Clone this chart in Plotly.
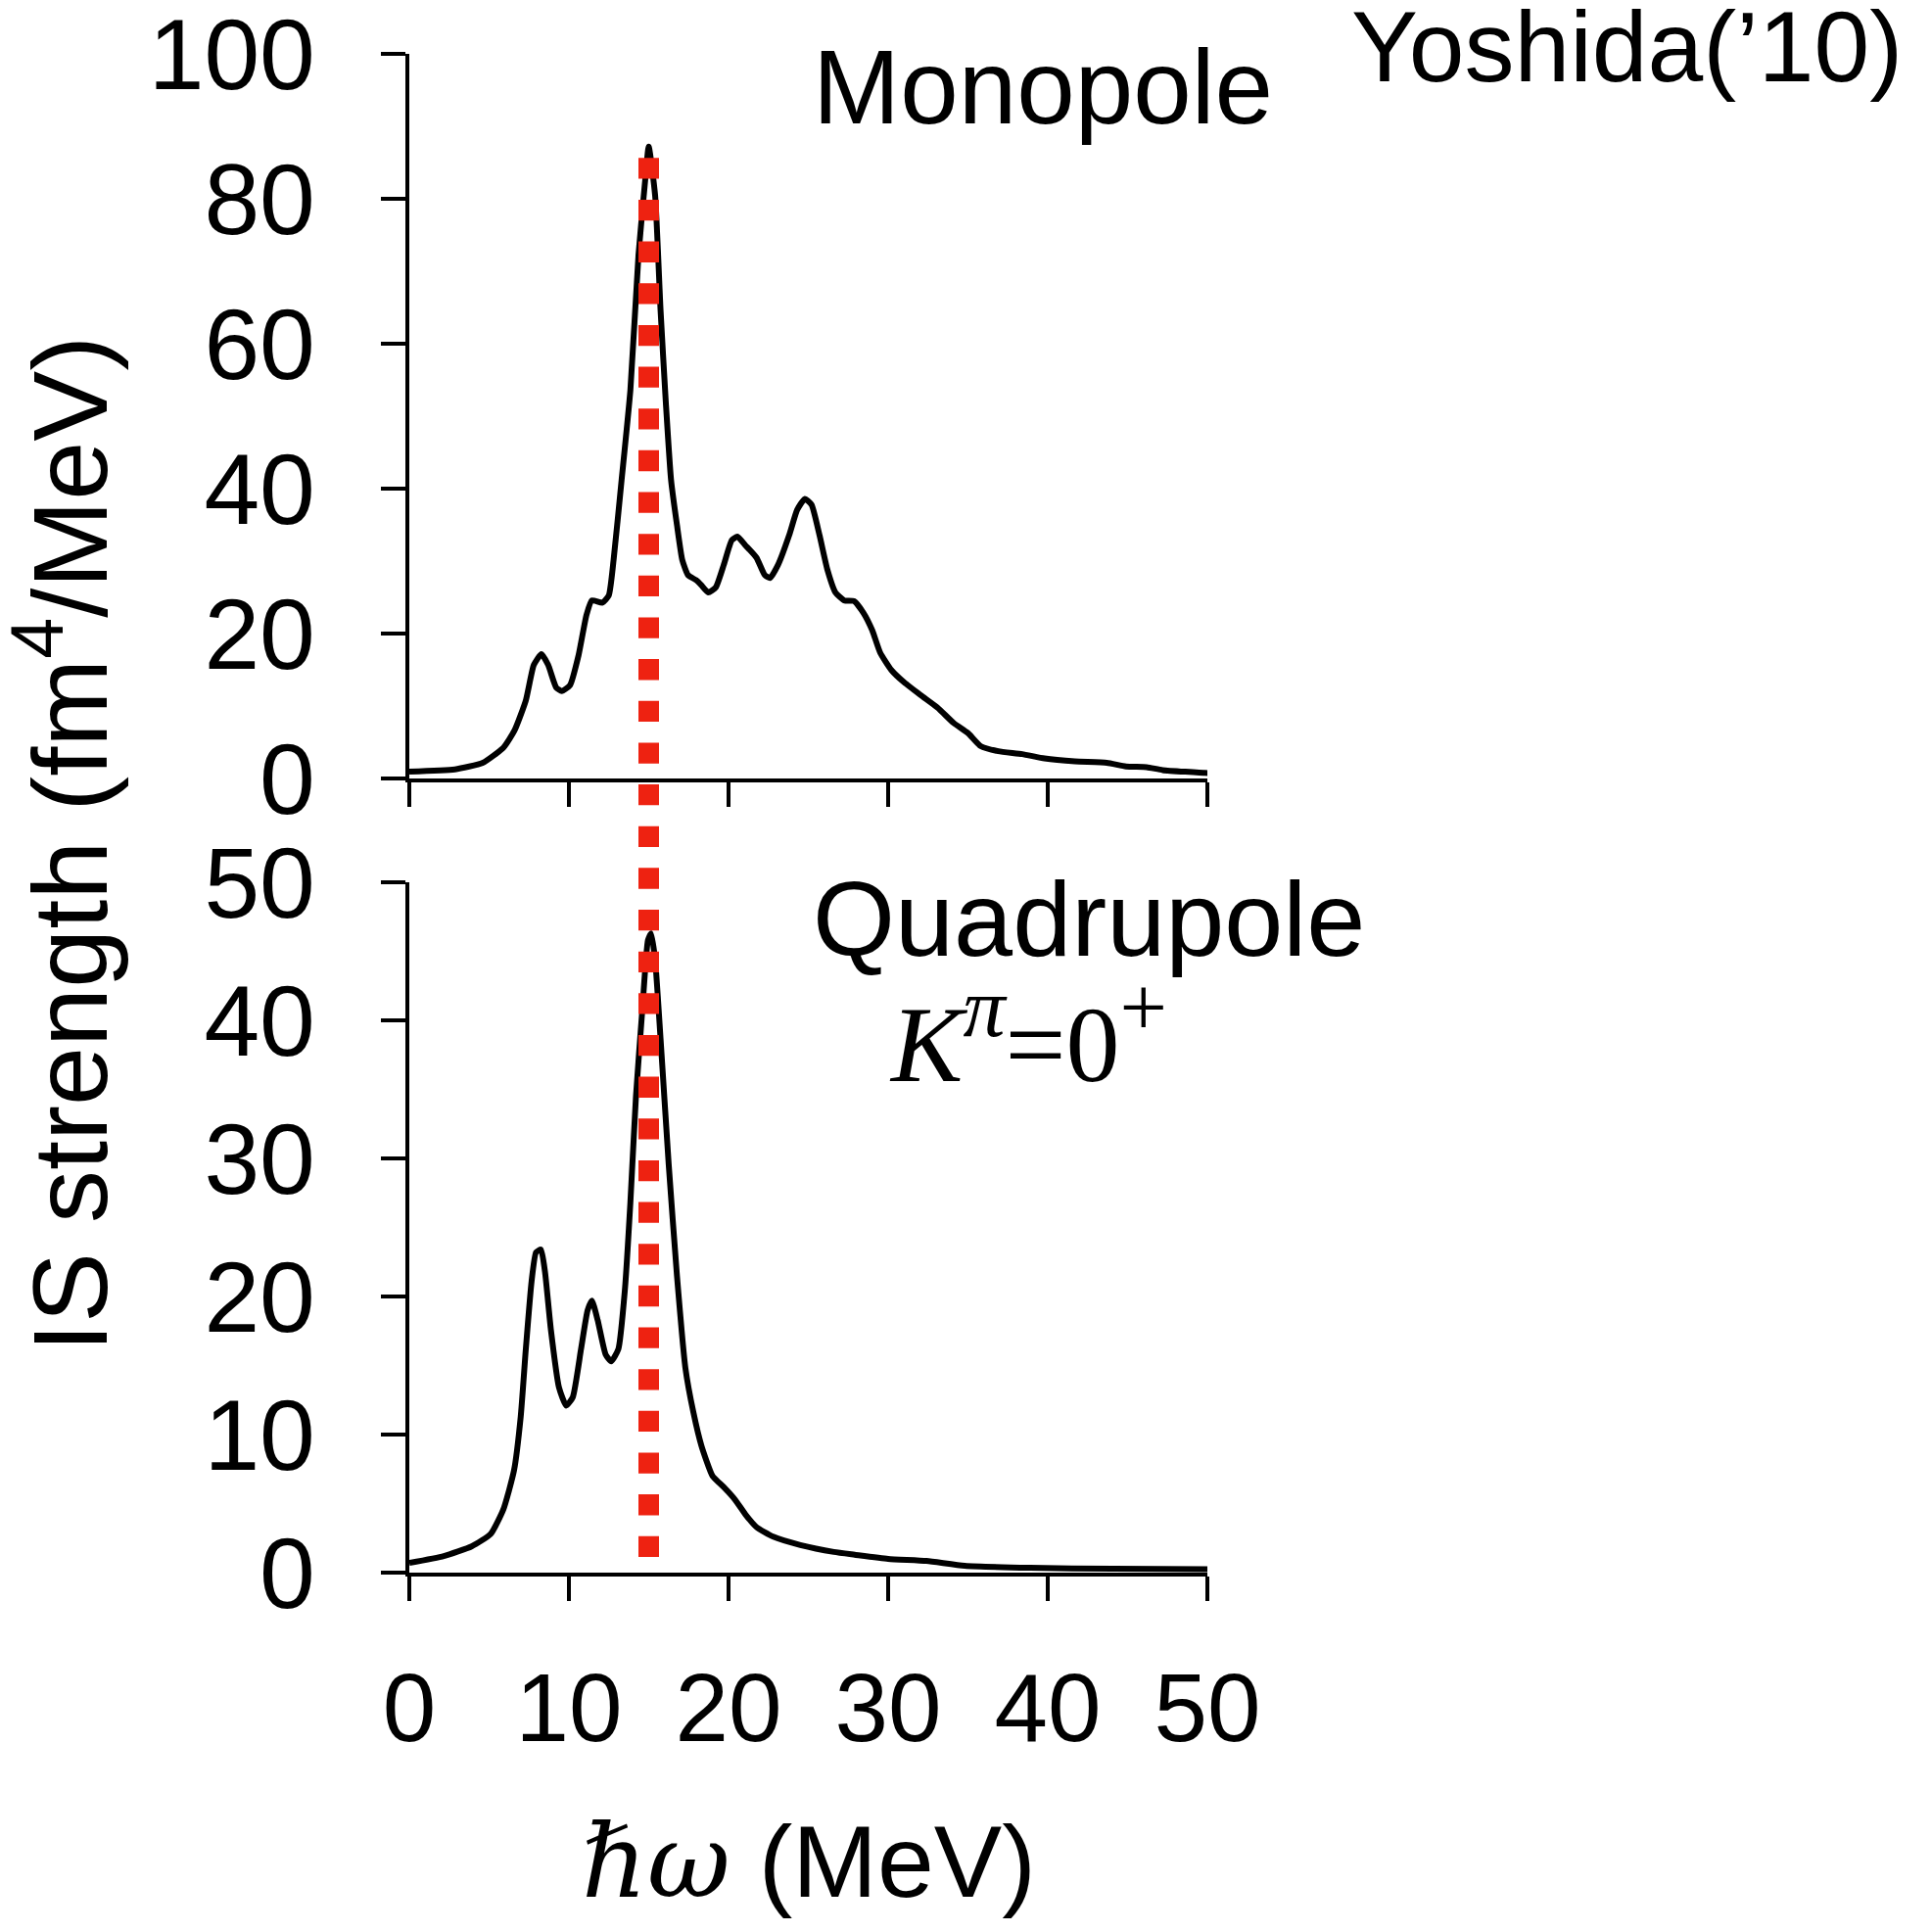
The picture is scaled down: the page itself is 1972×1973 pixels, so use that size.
import plotly.graph_objects as go

# Isoscalar monopole strength function (MeV, fm^4/MeV)
mono_e = [0.0, 2.85, 4.6, 5.9, 6.6, 7.3, 7.8, 8.28, 8.7, 9.2, 9.55, 10.07, 10.6, 11.1,
          11.44, 12.1, 12.5, 12.8, 13.3, 13.85, 14.36, 14.78, 15.0, 15.4, 15.74, 16.08,
          16.4, 16.77, 17.1, 17.46, 17.97, 18.3, 18.73, 19.2, 19.7, 20.2, 20.55, 21.06,
          21.75, 22.27, 22.6, 23.1, 23.8, 24.3, 24.78, 25.2, 25.7, 26.2, 26.7, 27.25,
          27.87, 28.45, 29.0, 29.5, 30.2, 31.0, 32.06, 33.1, 34.1, 35.0, 35.8, 36.9,
          38.4, 39.8, 41.7, 43.7, 44.9, 46.2, 47.2, 49.9, 50.0]
mono_s = [1.0, 1.3, 2.2, 4.3, 6.7, 10.8, 15.7, 17.2, 15.7, 12.6, 12.1, 12.9, 17.0, 22.6,
          24.6, 24.3, 25.3, 30.2, 41.2, 53.6, 72.3, 82.6, 87.2, 80.5, 64.7, 51.6,
          41.2, 35.0, 30.2, 28.1, 27.4, 26.7, 25.7, 26.4, 29.5, 32.9, 33.4, 32.2,
          30.5, 28.1, 27.7, 29.5, 33.6, 37.1, 38.6, 37.8, 33.6, 28.8, 25.7, 24.6,
          24.5, 22.9, 20.5, 17.4, 15.0, 13.3, 11.5, 9.8, 7.7, 6.3, 4.5, 3.8,
          3.4, 2.8, 2.4, 2.2, 1.7, 1.6, 1.2, 0.8, 0.8]

# Isoscalar quadrupole (K^pi = 0+) strength function
quad_e = [0.0, 2.16, 3.9, 5.1, 5.9, 6.56, 6.98, 7.3, 7.66, 7.94, 8.25, 8.5, 8.87, 9.38,
          9.83, 10.24, 10.76, 11.17, 11.44, 11.8, 12.3, 12.65, 13.1, 13.5, 13.85, 14.2,
          14.6, 14.95, 15.15, 15.4, 15.74, 16.25, 16.77, 17.3, 17.8, 18.3, 19.0, 19.7,
          20.4, 21.07, 21.75, 22.8, 24.5, 26.6, 27.9, 30.0, 32.4, 34.8, 38.9, 44.1, 50.0]
quad_s = [0.7, 1.2, 1.9, 2.8, 4.6, 7.4, 11.3, 16.2, 21.1, 23.2, 23.4, 21.8, 17.6, 13.4,
          12.1, 12.7, 16.2, 19.0, 19.7, 18.3, 15.8, 15.3, 16.2, 20.4, 26.8, 34.5,
          40.8, 45.8, 46.3, 44.4, 38.7, 29.6, 21.5, 14.8, 11.6, 9.2, 7.0, 6.2,
          5.3, 4.2, 3.3, 2.6, 2.0, 1.5, 1.3, 1.0, 0.85, 0.5, 0.35, 0.28, 0.25]

# Dotted marker energy and its vertical extent (top on monopole scale, bottom on quadrupole scale)
marker_e = 15.0
marker_top = 85.64
marker_bottom = 1.07

x_ticks = [0, 10, 20, 30, 40, 50]
mono_ticks = [0, 20, 40, 60, 80, 100]
quad_ticks = [0, 10, 20, 30, 40, 50]
mono_range = [0, 100]
quad_range = [0, 50]
x_range = [0, 50]

W, H = 1972, 1973
ML, MR, MT, MB = 418, 739, 55, 367
top_dom = [0.5227, 1.0]
bot_dom = [0.0, 0.4545]

SANS = "Liberation Sans, Arial, Helvetica, sans-serif"
SERIF = "Liberation Serif, Times New Roman, DejaVu Serif, serif"


def px_x(px):
    return (px - ML) / (W - ML - MR)


def px_y(py):
    return (H - MB - py) / (H - MT - MB)


def val_to_paper(v, rng, dom):
    return dom[0] + (v - rng[0]) / (rng[1] - rng[0]) * (dom[1] - dom[0])


fig = go.Figure()
line_style = dict(color="black", width=6, shape="spline", smoothing=0.5)
fig.add_trace(go.Scatter(x=mono_e, y=mono_s, mode="lines", line=line_style,
                         xaxis="x", yaxis="y", showlegend=False))
fig.add_trace(go.Scatter(x=quad_e, y=quad_s, mode="lines", line=line_style,
                         xaxis="x2", yaxis="y2", showlegend=False))

axis_common = dict(showline=True, linecolor="black", linewidth=3.5, ticks="outside",
                   ticklen=25, tickwidth=3.5, tickcolor="black", showgrid=False,
                   zeroline=False, automargin=False, ticklabeloverflow="allow")
x_font = dict(family=SANS, size=98, color="black")
y_font = dict(family=SANS, size=102, color="black")

fig.update_layout(
    width=W, height=H,
    margin=dict(l=ML, r=MR, t=MT, b=MB, autoexpand=False),
    paper_bgcolor="white", plot_bgcolor="white",
    xaxis=dict(domain=[0, 1], anchor="y", range=x_range, tickvals=x_ticks,
               showticklabels=False, tickfont=x_font, **axis_common),
    yaxis=dict(domain=top_dom, anchor="x", range=mono_range, tickvals=mono_ticks,
               ticklabelstandoff=47, tickfont=y_font, **axis_common),
    xaxis2=dict(domain=[0, 1], anchor="y2", range=x_range, tickvals=x_ticks,
                ticklabelstandoff=26, tickfont=x_font, **axis_common),
    yaxis2=dict(domain=bot_dom, anchor="x2", range=quad_range, tickvals=quad_ticks,
                ticklabelstandoff=47, tickfont=y_font, **axis_common),
)

# Dotted red marker line crossing both panels
fig.add_shape(type="line", xref="x", yref="paper",
              x0=marker_e, x1=marker_e,
              y0=val_to_paper(marker_top, mono_range, top_dom),
              y1=val_to_paper(marker_bottom, quad_range, bot_dom),
              line=dict(color="rgb(238,34,17)", width=21, dash="21.3px,21.35px"),
              layer="above")

sup_style = "<span style='font-size:86px'>"
annots = [
    dict(text="Monopole", x=px_x(828), y=px_y(151), xanchor="left", yanchor="bottom",
         font=dict(family=SANS, size=107, color="black")),
    dict(text="Quadrupole", x=px_x(828), y=px_y(1001), xanchor="left", yanchor="bottom",
         font=dict(family=SANS, size=108, color="black")),
    dict(text="Yoshida(\u201910)", x=px_x(1378), y=px_y(107), xanchor="left", yanchor="bottom",
         font=dict(family=SANS, size=102, color="black")),
    dict(text="<i>K</i><sup>" + sup_style + "<i>\u03c0</i></span></sup>=0<sup>"
         + sup_style + "+</span></sup>",
         x=px_x(906), y=px_y(1130), xanchor="left", yanchor="bottom",
         font=dict(family=SERIF, size=110, color="black")),
    dict(text="<span style='font-family:DejaVu Serif, serif'><i>\u210f\u03c9</i></span> (MeV)",
         x=px_x(826), y=px_y(1964), xanchor="center", yanchor="bottom",
         font=dict(family=SANS, size=104, color="black")),
    dict(text="IS strength (fm<sup>4</sup>/MeV)", x=px_x(64), y=px_y(862), textangle=-90,
         xanchor="center", yanchor="middle",
         font=dict(family=SANS, size=108, color="black")),
]
for a in annots:
    fig.add_annotation(xref="paper", yref="paper", showarrow=False, **a)

fig.write_html("out.html")
